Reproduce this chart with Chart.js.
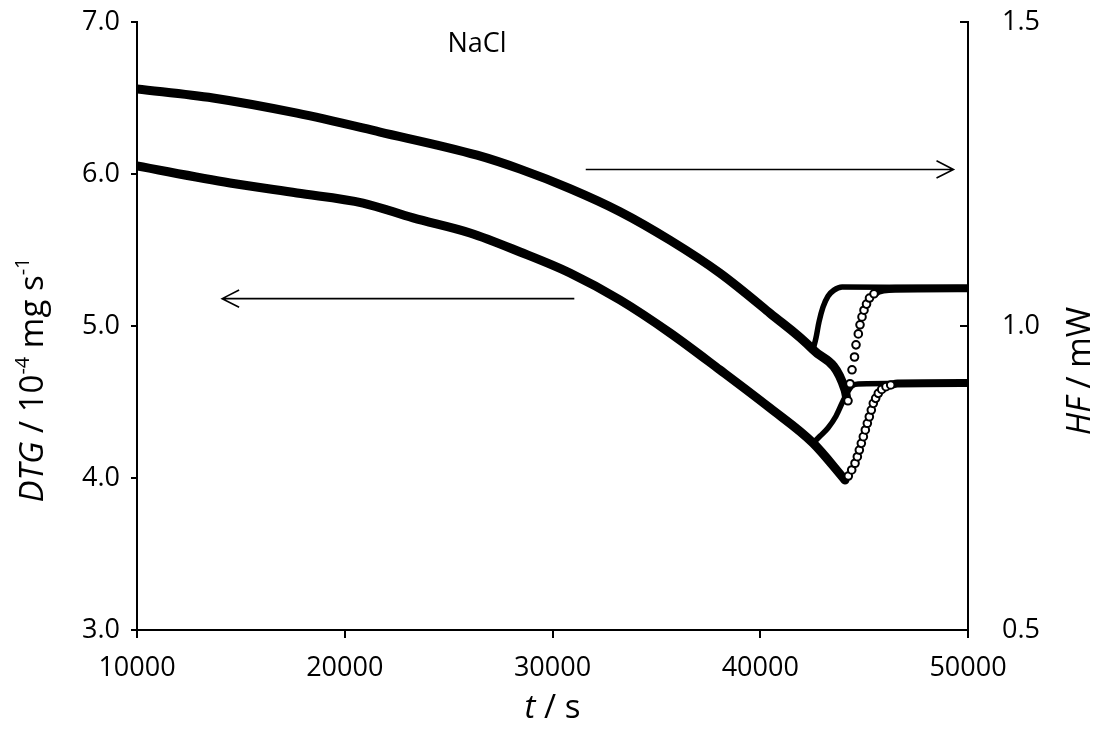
<!DOCTYPE html>
<html>
<head>
<meta charset="utf-8">
<title>NaCl DTG / HF</title>
<script src="https://cdn.jsdelivr.net/npm/chart.js@4.4.1/dist/chart.umd.min.js"></script>
<style>
  html, body { margin: 0; padding: 0; background: #fff; }
  #box { width: 1097px; height: 747px; }
</style>
</head>
<body>
<div id="box"><canvas id="naclChart"></canvas></div>
<script>
// DTG, 10^-4 mg/s (left axis) -- common trace down to the minimum
const dtgMainT = [10000, 14480, 17700, 20880, 23290, 26030, 28440, 30840, 33250, 35660, 38060, 40470, 42540, 44080];
const dtgMainV = [6.053, 5.941, 5.875, 5.809, 5.711, 5.612, 5.487, 5.349, 5.171, 4.954, 4.711, 4.460, 4.230, 3.987];
// early recovery branch
const dtgFastT = [42540, 42880, 43260, 43650, 43940, 44180, 44420, 44710, 50000];
const dtgFastV = [4.230, 4.276, 4.329, 4.408, 4.493, 4.559, 4.605, 4.618, 4.625];
// late recovery branch (sparse points)
const dtgSlowT = [44238, 44402, 44562, 44673, 44769, 44865, 44962, 45058, 45154, 45250, 45346, 45442, 45555, 45683, 45846, 46053, 46279];
const dtgSlowV = [4.013, 4.053, 4.097, 4.140, 4.184, 4.228, 4.272, 4.316, 4.360, 4.403, 4.447, 4.491, 4.524, 4.557, 4.583, 4.601, 4.612];
const dtgTailT = [46279, 46600, 50000];
const dtgTailV = [4.612, 4.622, 4.625];

// HF, mW (right axis)
const hfMainT = [10000, 13660, 17700, 21700, 26370, 28440, 30840, 33250, 35660, 38060, 40470, 42540, 44080, 44180];
const hfMainV = [1.390, 1.375, 1.350, 1.319, 1.281, 1.258, 1.226, 1.188, 1.141, 1.087, 1.021, 0.961, 0.895, 0.878];
const hfFastT = [42540, 42680, 42830, 43020, 43260, 43550, 43940, 50000];
const hfFastV = [0.961, 0.980, 1.007, 1.031, 1.049, 1.059, 1.064, 1.063];
const hfSlowT = [44224, 44320, 44417, 44537, 44609, 44720, 44802, 44898, 44994, 45115, 45259, 45476];
const hfSlowV = [0.877, 0.905, 0.928, 0.949, 0.969, 0.987, 1.002, 1.015, 1.026, 1.036, 1.046, 1.053];
const hfTailT = [45476, 45700, 46200, 50000];
const hfTailV = [1.053, 1.058, 1.061, 1.062];

const dtgTicks = [3, 4, 5, 6, 7];
const hfTicks = [0.5, 1.0, 1.5];
const timeTicks = [10000, 20000, 30000, 40000, 50000];

const pts = (ts, vs) => ts.map((t, i) => ({ x: t, y: vs[i] }));

const FONT = "'Open Sans', sans-serif";

function trace(ts, vs, axis, width) {
  return {
    data: pts(ts, vs),
    yAxisID: axis,
    borderColor: '#000',
    borderWidth: width,
    pointRadius: 0,
    cubicInterpolationMode: 'monotone',
    borderCapStyle: 'round',
    borderJoinStyle: 'round',
    order: 1,
  };
}

function dots(ts, vs, axis) {
  return {
    data: pts(ts, vs),
    yAxisID: axis,
    showLine: false,
    pointRadius: 3.8,
    pointBorderWidth: 2,
    pointBorderColor: '#000',
    pointBackgroundColor: '#fff',
    order: 0,
  };
}

// mixed italic / superscript text, centred on (cx, cy) baseline
function drawRuns(ctx, runs, cx, cy, size, angle) {
  const fontOf = r => (r.italic ? 'italic ' : '') + (r.sup ? Math.round(size * 0.62) : size) + 'px ' + FONT;
  let total = 0;
  runs.forEach(r => { ctx.font = fontOf(r); r.w = ctx.measureText(r.text).width; total += r.w; });
  ctx.save();
  ctx.translate(cx, cy);
  if (angle) ctx.rotate(angle);
  ctx.textAlign = 'left';
  ctx.textBaseline = 'alphabetic';
  let px = -total / 2;
  runs.forEach(r => {
    ctx.font = fontOf(r);
    ctx.fillText(r.text, px, r.sup ? -size * 0.42 : 0);
    px += r.w;
  });
  ctx.restore();
}

const arrows = [
  { from: [31600, 6.03], to: [49300, 6.03] },
  { from: [31050, 5.18], to: [14100, 5.18] },
];

const extras = {
  id: 'extras',
  afterDraw(chart) {
    const { ctx, chartArea: area, scales } = chart;
    const { x, y, y2 } = scales;
    ctx.save();
    ctx.strokeStyle = '#000';
    ctx.fillStyle = '#000';

    // HF axis ticks point into the plot
    ctx.lineWidth = 2;
    hfTicks.forEach(v => {
      const py = y2.getPixelForValue(v);
      ctx.beginPath();
      ctx.moveTo(area.right, py);
      ctx.lineTo(area.right - 8, py);
      ctx.stroke();
    });

    // arrows telling which curve belongs to which axis
    ctx.lineWidth = 1.6;
    arrows.forEach(a => {
      const x0 = x.getPixelForValue(a.from[0]), y0 = y.getPixelForValue(a.from[1]);
      const x1 = x.getPixelForValue(a.to[0]), y1 = y.getPixelForValue(a.to[1]);
      const ang = Math.atan2(y1 - y0, x1 - x0);
      const len = 19, spread = 0.47;
      ctx.beginPath();
      ctx.moveTo(x0, y0);
      ctx.lineTo(x1, y1);
      ctx.moveTo(x1 - len * Math.cos(ang - spread), y1 - len * Math.sin(ang - spread));
      ctx.lineTo(x1, y1);
      ctx.lineTo(x1 - len * Math.cos(ang + spread), y1 - len * Math.sin(ang + spread));
      ctx.stroke();
    });

    ctx.font = '27px ' + FONT;
    ctx.textAlign = 'center';
    ctx.textBaseline = 'middle';
    ctx.fillText('NaCl', x.getPixelForValue(26370), y.getPixelForValue(6.85));

    // axis titles
    drawRuns(ctx, [{ text: 't', italic: true }, { text: ' / s' }], (area.left + area.right) / 2, 718, 33, 0);
    drawRuns(ctx, [
      { text: 'DTG', italic: true }, { text: ' / 10' }, { text: '-4', sup: true },
      { text: ' mg s' }, { text: '-1', sup: true },
    ], 43, 380, 33, -Math.PI / 2);
    drawRuns(ctx, [{ text: 'HF', italic: true }, { text: ' / mW' }], 1090, 371, 33, -Math.PI / 2);
    ctx.restore();
  },
};

const tickFont = { family: FONT, size: 27 };

const fitSide = w => s => { s.width = w; s.paddingTop = 0; s.paddingBottom = 0; };

new Chart(document.querySelector('#naclChart'), {
  type: 'line',
  data: {
    datasets: [
      dots(hfSlowT, hfSlowV, 'y2'),
      dots(dtgSlowT, dtgSlowV, 'y'),
      trace(hfMainT, hfMainV, 'y2', 9),
      trace(hfFastT, hfFastV, 'y2', 5.5),
      trace(hfTailT, hfTailV, 'y2', 8),
      trace(dtgMainT, dtgMainV, 'y', 9),
      trace(dtgFastT, dtgFastV, 'y', 5.5),
      trace(dtgTailT, dtgTailV, 'y', 8),
    ],
  },
  options: {
    responsive: true,
    maintainAspectRatio: false,
    animation: false,
    layout: { padding: { top: 22, left: 0, right: 0, bottom: 0 } },
    plugins: { legend: { display: false }, tooltip: { enabled: false } },
    scales: {
      x: {
        type: 'linear',
        min: 10000,
        max: 50000,
        afterFit: s => { s.height = 117; s.paddingLeft = 0; s.paddingRight = 0; },
        afterBuildTicks: s => { s.ticks = timeTicks.map(v => ({ value: v })); },
        ticks: { color: '#000', font: tickFont, padding: 14, maxRotation: 0, callback: v => String(v) },
        grid: { drawOnChartArea: false, color: '#000', lineWidth: 2, tickLength: 8 },
        border: { display: true, color: '#000', width: 2 },
      },
      y: {
        position: 'left',
        min: 3,
        max: 7,
        afterFit: fitSide(137),
        afterBuildTicks: s => { s.ticks = dtgTicks.map(v => ({ value: v })); },
        ticks: { color: '#000', font: tickFont, padding: 11, callback: v => Number(v).toFixed(1) },
        grid: { drawOnChartArea: false, color: '#000', lineWidth: 2, tickLength: 6 },
        border: { display: true, color: '#000', width: 2 },
      },
      y2: {
        position: 'right',
        min: 0.5,
        max: 1.5,
        afterFit: fitSide(129),
        afterBuildTicks: s => { s.ticks = hfTicks.map(v => ({ value: v })); },
        ticks: { color: '#000', font: tickFont, padding: 34, callback: v => Number(v).toFixed(1) },
        grid: { drawOnChartArea: false, drawTicks: false },
        border: { display: true, color: '#000', width: 2 },
      },
    },
  },
  plugins: [extras],
});
</script>
</body>
</html>
